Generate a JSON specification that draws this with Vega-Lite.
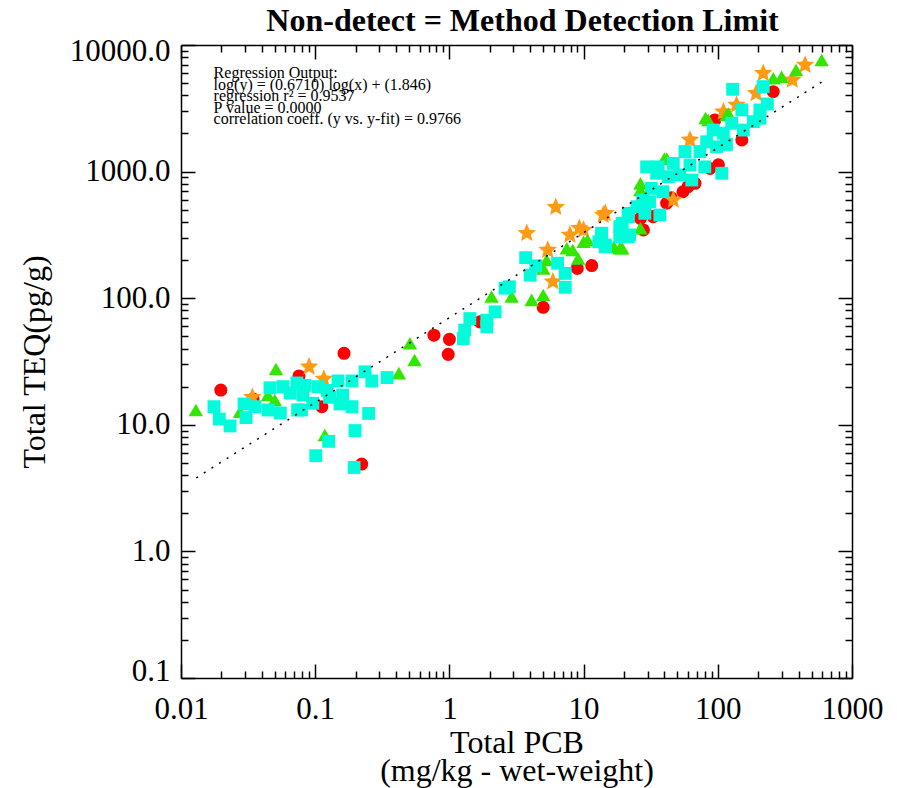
{
  "$schema": "https://vega.github.io/schema/vega-lite/v6.json",
  "width": 671,
  "height": 633,
  "autosize": {"type": "none"},
  "padding": {"left": 181, "top": 45, "right": 45, "bottom": 110},
  "background": "white",
  "title": {
    "text": "Non-detect = Method Detection Limit",
    "font": "Liberation Serif",
    "fontSize": 32,
    "fontWeight": "bold",
    "color": "black",
    "anchor": "middle",
    "offset": -3,
    "dx": 6
  },
  "config": {
    "view": {"stroke": null},
    "axis": {
      "grid": false,
      "domainColor": "black",
      "domainWidth": 1.5,
      "tickColor": "black",
      "tickWidth": 1.5,
      "labelColor": "black",
      "labelFont": "Liberation Serif",
      "labelFontSize": 31,
      "labelOverlap": false,
      "labelBound": false,
      "labelFlush": false,
      "titleColor": "black",
      "titleFont": "Liberation Serif",
      "titleFontSize": 32,
      "titleFontWeight": "normal"
    }
  },
  "datasets": {
    "points": [
      {"pcb": 0.0198, "teq": 18.8, "grp": "series 1"},
      {"pcb": 0.164, "teq": 36.7, "grp": "series 1"},
      {"pcb": 0.0757, "teq": 24.3, "grp": "series 1"},
      {"pcb": 0.0344, "teq": 16, "grp": "series 1"},
      {"pcb": 0.112, "teq": 13.9, "grp": "series 1"},
      {"pcb": 0.222, "teq": 4.9, "grp": "series 1"},
      {"pcb": 0.767, "teq": 51, "grp": "series 1"},
      {"pcb": 1.0, "teq": 47.3, "grp": "series 1"},
      {"pcb": 0.98, "teq": 36, "grp": "series 1"},
      {"pcb": 1.69, "teq": 65, "grp": "series 1"},
      {"pcb": 5.0, "teq": 84.8, "grp": "series 1"},
      {"pcb": 8.97, "teq": 172, "grp": "series 1"},
      {"pcb": 11.5, "teq": 181, "grp": "series 1"},
      {"pcb": 26.5, "teq": 427, "grp": "series 1"},
      {"pcb": 259, "teq": 4280, "grp": "series 1"},
      {"pcb": 95, "teq": 2560, "grp": "series 1"},
      {"pcb": 151, "teq": 1780, "grp": "series 1"},
      {"pcb": 101, "teq": 1130, "grp": "series 1"},
      {"pcb": 87.5, "teq": 1060, "grp": "series 1"},
      {"pcb": 67.6, "teq": 808, "grp": "series 1"},
      {"pcb": 55, "teq": 693, "grp": "series 1"},
      {"pcb": 41.6, "teq": 563, "grp": "series 1"},
      {"pcb": 33, "teq": 441, "grp": "series 1"},
      {"pcb": 27.9, "teq": 346, "grp": "series 1"},
      {"pcb": 60, "teq": 760, "grp": "series 1"},
      {"pcb": 45, "teq": 620, "grp": "series 1"},
      {"pcb": 0.09, "teq": 28.7, "grp": "series 2"},
      {"pcb": 0.116, "teq": 23, "grp": "series 2"},
      {"pcb": 0.034, "teq": 16.5, "grp": "series 2"},
      {"pcb": 5.9, "teq": 135, "grp": "series 2"},
      {"pcb": 5.4, "teq": 240, "grp": "series 2"},
      {"pcb": 3.77, "teq": 326, "grp": "series 2"},
      {"pcb": 6.2, "teq": 523, "grp": "series 2"},
      {"pcb": 7.9, "teq": 316, "grp": "series 2"},
      {"pcb": 9.3, "teq": 357, "grp": "series 2"},
      {"pcb": 14, "teq": 454, "grp": "series 2"},
      {"pcb": 14.5, "teq": 468, "grp": "series 2"},
      {"pcb": 10, "teq": 346, "grp": "series 2"},
      {"pcb": 46.6, "teq": 597, "grp": "series 2"},
      {"pcb": 62, "teq": 1780, "grp": "series 2"},
      {"pcb": 110, "teq": 2970, "grp": "series 2"},
      {"pcb": 138, "teq": 3360, "grp": "series 2"},
      {"pcb": 193, "teq": 4150, "grp": "series 2"},
      {"pcb": 218, "teq": 5980, "grp": "series 2"},
      {"pcb": 359, "teq": 5300, "grp": "series 2"},
      {"pcb": 447, "teq": 6950, "grp": "series 2"},
      {"pcb": 0.0129, "teq": 13.1, "grp": "series 3"},
      {"pcb": 0.051, "teq": 27.6, "grp": "series 3"},
      {"pcb": 0.0445, "teq": 17.2, "grp": "series 3"},
      {"pcb": 0.05, "teq": 15.7, "grp": "series 3"},
      {"pcb": 0.0275, "teq": 12.7, "grp": "series 3"},
      {"pcb": 0.118, "teq": 8.3, "grp": "series 3"},
      {"pcb": 0.508, "teq": 44, "grp": "series 3"},
      {"pcb": 0.55, "teq": 32.5, "grp": "series 3"},
      {"pcb": 0.42, "teq": 25.6, "grp": "series 3"},
      {"pcb": 2.06, "teq": 103, "grp": "series 3"},
      {"pcb": 2.91, "teq": 103, "grp": "series 3"},
      {"pcb": 4.1, "teq": 97, "grp": "series 3"},
      {"pcb": 5.0, "teq": 106, "grp": "series 3"},
      {"pcb": 5.0, "teq": 172, "grp": "series 3"},
      {"pcb": 5.3, "teq": 200, "grp": "series 3"},
      {"pcb": 7.5, "teq": 248, "grp": "series 3"},
      {"pcb": 8.3, "teq": 240, "grp": "series 3"},
      {"pcb": 9.1, "teq": 206, "grp": "series 3"},
      {"pcb": 10, "teq": 279, "grp": "series 3"},
      {"pcb": 16.8, "teq": 255, "grp": "series 3"},
      {"pcb": 18.6, "teq": 248, "grp": "series 3"},
      {"pcb": 26.5, "teq": 807, "grp": "series 3"},
      {"pcb": 594, "teq": 7600, "grp": "series 3"},
      {"pcb": 383, "teq": 6350, "grp": "series 3"},
      {"pcb": 299, "teq": 5620, "grp": "series 3"},
      {"pcb": 259, "teq": 5460, "grp": "series 3"},
      {"pcb": 120, "teq": 2880, "grp": "series 3"},
      {"pcb": 85, "teq": 2560, "grp": "series 3"},
      {"pcb": 81, "teq": 2650, "grp": "series 3"},
      {"pcb": 116, "teq": 2800, "grp": "series 3"},
      {"pcb": 41.6, "teq": 1270, "grp": "series 3"},
      {"pcb": 40, "teq": 1270, "grp": "series 3"},
      {"pcb": 26.5, "teq": 716, "grp": "series 3"},
      {"pcb": 26.5, "teq": 357, "grp": "series 3"},
      {"pcb": 10.7, "teq": 288, "grp": "series 3"},
      {"pcb": 19.4, "teq": 248, "grp": "series 3"},
      {"pcb": 0.0176, "teq": 13.9, "grp": "series 4"},
      {"pcb": 0.0193, "teq": 11.1, "grp": "series 4"},
      {"pcb": 0.0232, "teq": 9.8, "grp": "series 4"},
      {"pcb": 0.0305, "teq": 11.4, "grp": "series 4"},
      {"pcb": 0.0295, "teq": 14.6, "grp": "series 4"},
      {"pcb": 0.0356, "teq": 13.9, "grp": "series 4"},
      {"pcb": 0.046, "teq": 19.6, "grp": "series 4"},
      {"pcb": 0.0575, "teq": 20, "grp": "series 4"},
      {"pcb": 0.0445, "teq": 13.1, "grp": "series 4"},
      {"pcb": 0.055, "teq": 12.4, "grp": "series 4"},
      {"pcb": 0.073, "teq": 21.4, "grp": "series 4"},
      {"pcb": 0.084, "teq": 20.5, "grp": "series 4"},
      {"pcb": 0.081, "teq": 17.2, "grp": "series 4"},
      {"pcb": 0.105, "teq": 20, "grp": "series 4"},
      {"pcb": 0.079, "teq": 13.1, "grp": "series 4"},
      {"pcb": 0.096, "teq": 14.8, "grp": "series 4"},
      {"pcb": 0.123, "teq": 18.7, "grp": "series 4"},
      {"pcb": 0.148, "teq": 22.2, "grp": "series 4"},
      {"pcb": 0.188, "teq": 22.2, "grp": "series 4"},
      {"pcb": 0.16, "teq": 17.2, "grp": "series 4"},
      {"pcb": 0.128, "teq": 16.5, "grp": "series 4"},
      {"pcb": 0.153, "teq": 14.6, "grp": "series 4"},
      {"pcb": 0.188, "teq": 13.9, "grp": "series 4"},
      {"pcb": 0.235, "teq": 26.2, "grp": "series 4"},
      {"pcb": 0.264, "teq": 22.2, "grp": "series 4"},
      {"pcb": 0.343, "teq": 23.6, "grp": "series 4"},
      {"pcb": 0.25, "teq": 12.3, "grp": "series 4"},
      {"pcb": 0.198, "teq": 9.0, "grp": "series 4"},
      {"pcb": 0.126, "teq": 7.4, "grp": "series 4"},
      {"pcb": 0.101, "teq": 5.7, "grp": "series 4"},
      {"pcb": 0.195, "teq": 4.6, "grp": "series 4"},
      {"pcb": 0.074, "teq": 13.1, "grp": "series 4"},
      {"pcb": 0.065, "teq": 17.8, "grp": "series 4"},
      {"pcb": 1.27, "teq": 48, "grp": "series 4"},
      {"pcb": 1.3, "teq": 56, "grp": "series 4"},
      {"pcb": 1.42, "teq": 69, "grp": "series 4"},
      {"pcb": 1.9, "teq": 59.5, "grp": "series 4"},
      {"pcb": 1.9, "teq": 67, "grp": "series 4"},
      {"pcb": 2.19, "teq": 78, "grp": "series 4"},
      {"pcb": 2.6, "teq": 120, "grp": "series 4"},
      {"pcb": 2.8, "teq": 123, "grp": "series 4"},
      {"pcb": 4.0, "teq": 152, "grp": "series 4"},
      {"pcb": 3.7, "teq": 209, "grp": "series 4"},
      {"pcb": 4.4, "teq": 180, "grp": "series 4"},
      {"pcb": 6.4, "teq": 189, "grp": "series 4"},
      {"pcb": 7.3, "teq": 157, "grp": "series 4"},
      {"pcb": 7.3, "teq": 122, "grp": "series 4"},
      {"pcb": 13.6, "teq": 306, "grp": "series 4"},
      {"pcb": 14.5, "teq": 263, "grp": "series 4"},
      {"pcb": 13.0, "teq": 279, "grp": "series 4"},
      {"pcb": 18.6, "teq": 367, "grp": "series 4"},
      {"pcb": 21.5, "teq": 441, "grp": "series 4"},
      {"pcb": 22, "teq": 316, "grp": "series 4"},
      {"pcb": 129, "teq": 4470, "grp": "series 4"},
      {"pcb": 218, "teq": 4690, "grp": "series 4"},
      {"pcb": 234, "teq": 3420, "grp": "series 4"},
      {"pcb": 206, "teq": 3070, "grp": "series 4"},
      {"pcb": 151, "teq": 3070, "grp": "series 4"},
      {"pcb": 206, "teq": 2640, "grp": "series 4"},
      {"pcb": 184, "teq": 2480, "grp": "series 4"},
      {"pcb": 127, "teq": 2410, "grp": "series 4"},
      {"pcb": 92.5, "teq": 2130, "grp": "series 4"},
      {"pcb": 110, "teq": 2010, "grp": "series 4"},
      {"pcb": 155, "teq": 2130, "grp": "series 4"},
      {"pcb": 82.6, "teq": 1720, "grp": "series 4"},
      {"pcb": 98, "teq": 1570, "grp": "series 4"},
      {"pcb": 73.6, "teq": 1440, "grp": "series 4"},
      {"pcb": 57, "teq": 1440, "grp": "series 4"},
      {"pcb": 116, "teq": 1640, "grp": "series 4"},
      {"pcb": 107, "teq": 970, "grp": "series 4"},
      {"pcb": 80, "teq": 1090, "grp": "series 4"},
      {"pcb": 62, "teq": 1130, "grp": "series 4"},
      {"pcb": 46.6, "teq": 1160, "grp": "series 4"},
      {"pcb": 36, "teq": 1090, "grp": "series 4"},
      {"pcb": 35, "teq": 970, "grp": "series 4"},
      {"pcb": 42.8, "teq": 912, "grp": "series 4"},
      {"pcb": 52, "teq": 940, "grp": "series 4"},
      {"pcb": 64, "teq": 858, "grp": "series 4"},
      {"pcb": 32, "teq": 737, "grp": "series 4"},
      {"pcb": 39, "teq": 693, "grp": "series 4"},
      {"pcb": 27.5, "teq": 597, "grp": "series 4"},
      {"pcb": 31, "teq": 578, "grp": "series 4"},
      {"pcb": 37, "teq": 454, "grp": "series 4"},
      {"pcb": 28.6, "teq": 468, "grp": "series 4"},
      {"pcb": 21.5, "teq": 468, "grp": "series 4"},
      {"pcb": 19.4, "teq": 391, "grp": "series 4"},
      {"pcb": 21.5, "teq": 306, "grp": "series 4"},
      {"pcb": 13.6, "teq": 326, "grp": "series 4"},
      {"pcb": 14.5, "teq": 255, "grp": "series 4"},
      {"pcb": 18.6, "teq": 306, "grp": "series 4"},
      {"pcb": 25, "teq": 528, "grp": "series 4"},
      {"pcb": 29.5, "teq": 1090, "grp": "series 4"}
    ],
    "fit": [
      {"pcb": 0.013, "teq": 3.81},
      {"pcb": 600, "teq": 5130}
    ],
    "note": [
      {"text": "Regression Output:\nlog(y) = (0.6710) log(x) + (1.846)\nregression r² = 0.9537\nP value = 0.0000\ncorrelation coeff. (y vs. y-fit) = 0.9766"}
    ]
  },
  "layer": [
    {
      "data": {"name": "points"},
      "mark": {"type": "point", "filled": true, "opacity": 1, "strokeWidth": 0},
      "encoding": {
        "x": {
          "field": "pcb", "type": "quantitative",
          "scale": {"type": "log", "domain": [0.01, 1000], "nice": false},
          "axis": {
            "orient": "bottom",
            "values": [0.01,0.02,0.03,0.04,0.05,0.06,0.07,0.08,0.09,0.1,0.2,0.3,0.4,0.5,0.6,0.7,0.8,0.9,1,2,3,4,5,6,7,8,9,10,20,30,40,50,60,70,80,90,100,200,300,400,500,600,700,800,900,1000],
            "labelExpr": "abs(log(datum.value)/LN10 - round(log(datum.value)/LN10)) < 0.0001 ? format(datum.value, '~g') : ''",
            "tickSize": {"condition": {"test": "abs(log(datum.value)/LN10 - round(log(datum.value)/LN10)) < 0.0001", "value": -14}, "value": -7},
            "labelPadding": 30,
            "title": ["Total PCB", "(mg/kg - wet-weight)"],
            "titlePadding": -4,
            "titleLineHeight": 28
          }
        },
        "y": {
          "field": "teq", "type": "quantitative",
          "scale": {"type": "log", "domain": [0.1, 10000], "nice": false},
          "axis": {
            "orient": "left",
            "values": [0.1,0.2,0.3,0.4,0.5,0.6,0.7,0.8,0.9,1,2,3,4,5,6,7,8,9,10,20,30,40,50,60,70,80,90,100,200,300,400,500,600,700,800,900,1000,2000,3000,4000,5000,6000,7000,8000,9000,10000],
            "labelExpr": "abs(log(datum.value)/LN10 - round(log(datum.value)/LN10)) < 0.0001 ? format(datum.value, '.1f') : ''",
            "tickSize": {"condition": {"test": "abs(log(datum.value)/LN10 - round(log(datum.value)/LN10)) < 0.0001", "value": -14}, "value": -7},
            "labelPadding": 25,
            "labelFlush": true,
            "labelFlushOffset": 9,
            "title": "Total TEQ(pg/g)",
            "titlePadding": 18
          }
        },
        "shape": {
          "field": "grp", "type": "nominal",
          "scale": {"domain": ["series 1", "series 2", "series 3", "series 4"], "range": ["circle", "M0,-1L0.265,-0.364L0.951,-0.309L0.428,0.139L0.588,0.809L0,0.45L-0.588,0.809L-0.428,0.139L-0.951,-0.309L-0.265,-0.364Z", "triangle-up", "square"]},
          "legend": null
        },
        "color": {
          "field": "grp", "type": "nominal",
          "scale": {"domain": ["series 1", "series 2", "series 3", "series 4"], "range": ["#FF0000", "#FF9A14", "#33E600", "#00FCDA"]},
          "legend": null
        },
        "size": {
          "field": "grp", "type": "nominal",
          "scale": {"type": "ordinal", "domain": ["series 1", "series 2", "series 3", "series 4"], "range": [170, 380, 210, 165]},
          "legend": null
        }
      }
    },
    {
      "data": {"name": "fit"},
      "mark": {"type": "line", "color": "black", "strokeWidth": 1.5, "strokeDash": [2, 7]},
      "encoding": {
        "x": {
          "field": "pcb", "type": "quantitative",
          "scale": {"type": "log", "domain": [0.01, 1000], "nice": false},
          "axis": {
            "orient": "top",
            "values": [0.01,0.02,0.03,0.04,0.05,0.06,0.07,0.08,0.09,0.1,0.2,0.3,0.4,0.5,0.6,0.7,0.8,0.9,1,2,3,4,5,6,7,8,9,10,20,30,40,50,60,70,80,90,100,200,300,400,500,600,700,800,900,1000],
            "labels": false,
            "title": null,
            "tickSize": {"condition": {"test": "abs(log(datum.value)/LN10 - round(log(datum.value)/LN10)) < 0.0001", "value": -14}, "value": -7}
          }
        },
        "y": {
          "field": "teq", "type": "quantitative",
          "scale": {"type": "log", "domain": [0.1, 10000], "nice": false},
          "axis": {
            "orient": "right",
            "values": [0.1,0.2,0.3,0.4,0.5,0.6,0.7,0.8,0.9,1,2,3,4,5,6,7,8,9,10,20,30,40,50,60,70,80,90,100,200,300,400,500,600,700,800,900,1000,2000,3000,4000,5000,6000,7000,8000,9000,10000],
            "labels": false,
            "title": null,
            "tickSize": {"condition": {"test": "abs(log(datum.value)/LN10 - round(log(datum.value)/LN10)) < 0.0001", "value": -14}, "value": -7}
          }
        }
      }
    },
    {
      "data": {"name": "note"},
      "mark": {"type": "text", "align": "left", "baseline": "top", "font": "Liberation Serif", "fontSize": 16, "lineHeight": 11.6, "lineBreak": "\n", "color": "black"},
      "encoding": {
        "x": {"datum": 0.0175, "type": "quantitative", "scale": {"type": "log", "domain": [0.01, 1000], "nice": false}, "axis": null},
        "y": {"datum": 6950, "type": "quantitative", "scale": {"type": "log", "domain": [0.1, 10000], "nice": false}, "axis": null},
        "text": {"field": "text"}
      }
    }
  ],
  "resolve": {"scale": {"x": "independent", "y": "independent"}}
}
